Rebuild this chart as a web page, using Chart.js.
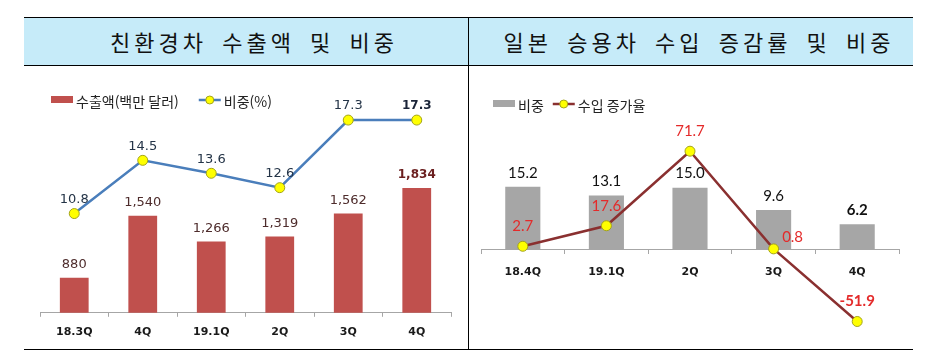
<!DOCTYPE html>
<html lang="ko">
<head>
<meta charset="utf-8">
<title>친환경차 수출액 및 일본 승용차 수입</title>
<script src="https://cdn.jsdelivr.net/npm/chart.js@4.4.1/dist/chart.umd.min.js"></script>
<style>
  html, body { margin: 0; padding: 0; background: #fff; }
  #wrap { position: relative; width: 926px; height: 360px; overflow: hidden; }
  .rule { position: absolute; background: #000; }
  .head {
    position: absolute; top: 18px; height: 47px; background: #c6ebf9;
    font-family: "Noto Sans CJK KR", sans-serif; font-size: 22px; letter-spacing: 4px; word-spacing: 5px;
    line-height: 47px; text-align: center; color: #111; white-space: nowrap;
  }
  canvas { position: absolute; top: 66px; }
</style>
</head>
<body>
<div id="wrap">
  <div class="head" style="left:24px; width:444px; padding-left:16px; box-sizing:border-box;">친환경차 수출액 및 비중</div>
  <div class="head" style="left:469px; width:444px; padding-left:16px; box-sizing:border-box;">일본 승용차 수입 증감률 및 비중</div>
  <div class="rule" style="left:24px; top:17px; width:889px; height:1px;"></div>
  <div class="rule" style="left:24px; top:65px; width:889px; height:1px;"></div>
  <div class="rule" style="left:24px; top:349px; width:889px; height:1px;"></div>
  <div class="rule" style="left:468px; top:17px; width:1px; height:333px;"></div>
  <canvas id="leftChart" width="444" height="282" style="left:24px;"></canvas>
  <canvas id="rightChart" width="444" height="282" style="left:469px;"></canvas>
</div>
<script>
(function () {
  'use strict';

  // left panel data
  var leftQuarters = ['18.3Q', '4Q', '19.1Q', '2Q', '3Q', '4Q'];
  var exportAmount = [880, 1540, 1266, 1319, 1562, 1834];
  var exportShare = [10.8, 14.5, 13.6, 12.6, 17.3, 17.3];
  var leftSeriesNames = ['수출액(백만 달러)', '비중(%)'];

  // right panel data
  var rightQuarters = ['18.4Q', '19.1Q', '2Q', '3Q', '4Q'];
  var japanShare = [15.2, 13.1, 15.0, 9.6, 6.2];
  var importGrowth = [2.7, 17.6, 71.7, 0.8, -51.9];
  var rightSeriesNames = ['비중', '수입 증가율'];

  var colors = {
    red: '#c0504d',
    blue: '#4a7ebb',
    gray: '#a6a6a6',
    maroon: '#8a3030',
    yellow: '#ffff00',
    pointEdge: '#a3a31a',
    axis: '#a6a6a6',
    labelRed: '#e42a2a'
  };

  function getCtx(id) {
    var el = document.getElementById(id);
    return el ? el.getContext('2d') : null;
  }

  // value labels above bars / points, style comes from dataset.valueLabel
  var valueLabels = {
    id: 'valueLabels',
    afterDatasetsDraw: function (chart) {
      var ctx = chart.ctx;
      ctx.save();
      ctx.textAlign = 'center';
      ctx.textBaseline = 'middle';
      chart.data.datasets.forEach(function (ds, di) {
        var st = ds.valueLabel;
        if (!st) return;
        var meta = chart.getDatasetMeta(di);
        meta.data.forEach(function (el, i) {
          var last = i === ds.data.length - 1;
          ctx.font = last ? st.lastFont : st.font;
          ctx.fillStyle = last ? st.lastColor : st.color;
          var side = st.side ? st.side(i) : 'above';
          if (side === 'right') {
            ctx.fillText(st.fmt(ds.data[i]), el.x + 19, el.y - 12);
          } else {
            ctx.fillText(st.fmt(ds.data[i]), el.x, el.y - st.gap);
          }
        });
      });
      ctx.restore();
    }
  };

  // legend row drawn as in the office chart: box / line with dot + text
  var rowLegend = {
    id: 'rowLegend',
    afterDraw: function (chart, args, opts) {
      if (!opts.items) return;
      var ctx = chart.ctx;
      var x = opts.x;
      var y = opts.y;
      ctx.save();
      ctx.font = opts.font;
      ctx.textBaseline = 'middle';
      opts.items.forEach(function (it) {
        if (it.kind === 'box') {
          ctx.fillStyle = it.color;
          ctx.fillRect(x, y - 5, 22, 7);
        } else {
          ctx.strokeStyle = it.color;
          ctx.lineWidth = 2.5;
          ctx.beginPath();
          ctx.moveTo(x, y - 1);
          ctx.lineTo(x + 22, y - 1);
          ctx.stroke();
          ctx.beginPath();
          ctx.arc(x + 11, y - 1, 4, 0, Math.PI * 2);
          ctx.fillStyle = colors.yellow;
          ctx.fill();
          ctx.lineWidth = 1;
          ctx.strokeStyle = colors.pointEdge;
          ctx.stroke();
        }
        x += 25;
        ctx.fillStyle = '#222';
        ctx.fillText(it.text, x, y + 1);
        x += ctx.measureText(it.text).width + opts.gap;
      });
      ctx.restore();
    }
  };

  var xAxisBase = {
    grid: { display: true, drawOnChartArea: false, drawTicks: true, tickLength: 4, color: colors.axis, offset: true },
    border: { display: true, color: colors.axis, width: 1 },
    ticks: { color: '#1a1a1a', font: { family: 'DejaVu Sans', size: 11, weight: 'bold' } }
  };

  // Left: export amount bars + share line
  (function renderLeft() {
    var ctx = getCtx('leftChart');
    if (!ctx) return;

    new Chart(ctx, {
      type: 'bar',
      data: {
        labels: leftQuarters,
        datasets: [
          {
            type: 'line',
            label: leftSeriesNames[1],
            data: exportShare,
            yAxisID: 'yShare',
            borderColor: colors.blue,
            borderWidth: 2.5,
            pointRadius: 5,
            pointBackgroundColor: colors.yellow,
            pointBorderColor: colors.pointEdge,
            pointBorderWidth: 1,
            tension: 0,
            order: 0,
            valueLabel: {
              font: '13px "DejaVu Sans"', color: '#243447',
              lastFont: 'bold 12px "DejaVu Sans"', lastColor: '#1a2438',
              gap: 14, fmt: function (v) { return v.toFixed(1); }
            }
          },
          {
            type: 'bar',
            label: leftSeriesNames[0],
            data: exportAmount,
            yAxisID: 'yAmt',
            backgroundColor: colors.red,
            categoryPercentage: 1,
            barPercentage: 0.42,
            clip: 0,
            order: 1,
            valueLabel: {
              font: '13px "DejaVu Sans"', color: '#4e2c2c',
              lastFont: 'bold 12px "DejaVu Sans"', lastColor: '#6b1f1f',
              gap: 13, fmt: function (v) { return v.toLocaleString('en-US'); }
            }
          }
        ]
      },
      options: {
        responsive: false,
        animation: false,
        layout: { padding: { left: 16, right: 17, top: 44, bottom: 0 } },
        scales: {
          x: Object.assign({}, xAxisBase, { ticks: Object.assign({}, xAxisBase.ticks, { padding: 9 }) }),
          yAmt: { display: false, min: 509, max: 2662 },
          yShare: { display: false, min: 3.9, max: 18.0 }
        },
        plugins: {
          legend: { display: false },
          tooltip: { enabled: false },
          rowLegend: {
            x: 27, y: 35, gap: 20, font: '14px "Noto Sans CJK KR"',
            items: [
              { kind: 'box', color: colors.red, text: leftSeriesNames[0] },
              { kind: 'line', color: colors.blue, text: leftSeriesNames[1] }
            ]
          }
        }
      },
      plugins: [valueLabels, rowLegend]
    });
  })();

  // Right: Japan share bars + import growth line
  (function renderRight() {
    var ctx = getCtx('rightChart');
    if (!ctx) return;

    new Chart(ctx, {
      type: 'bar',
      data: {
        labels: rightQuarters,
        datasets: [
          {
            type: 'line',
            label: rightSeriesNames[1],
            data: importGrowth,
            yAxisID: 'yRate',
            borderColor: colors.maroon,
            borderWidth: 2.5,
            pointRadius: 5,
            pointBackgroundColor: colors.yellow,
            pointBorderColor: colors.pointEdge,
            pointBorderWidth: 1,
            tension: 0,
            order: 0,
            valueLabel: {
              font: '15px Lato', color: colors.labelRed,
              lastFont: 'bold 15px Lato', lastColor: colors.labelRed,
              gap: 20, fmt: function (v) { return v.toFixed(1); },
              side: function (i) { return i === 3 ? 'right' : 'above'; }
            }
          },
          {
            type: 'bar',
            label: rightSeriesNames[0],
            data: japanShare,
            yAxisID: 'yBar',
            backgroundColor: colors.gray,
            categoryPercentage: 1,
            barPercentage: 0.42,
            order: 1,
            valueLabel: {
              font: '15px Lato', color: '#111',
              lastFont: 'bold 15px Lato', lastColor: '#111',
              gap: 14, fmt: function (v) { return v.toFixed(1); }
            }
          }
        ]
      },
      options: {
        responsive: false,
        animation: false,
        layout: { padding: { left: 12, right: 14, top: 44, bottom: 13 } },
        scales: {
          x: Object.assign({}, xAxisBase, {
            position: { yBar: 0 },
            ticks: Object.assign({}, xAxisBase.ticks, { padding: 12 })
          }),
          yBar: { display: false, min: -20.5, max: 33.7 },
          yRate: { display: false, min: -61.7, max: 101.6 }
        },
        plugins: {
          legend: { display: false },
          tooltip: { enabled: false },
          rowLegend: {
            x: 24, y: 39, gap: 9, font: '14px "Noto Sans CJK KR"',
            items: [
              { kind: 'box', color: colors.gray, text: rightSeriesNames[0] },
              { kind: 'line', color: colors.maroon, text: rightSeriesNames[1] }
            ]
          }
        }
      },
      plugins: [valueLabels, rowLegend]
    });
  })();
})();
</script>
</body>
</html>
